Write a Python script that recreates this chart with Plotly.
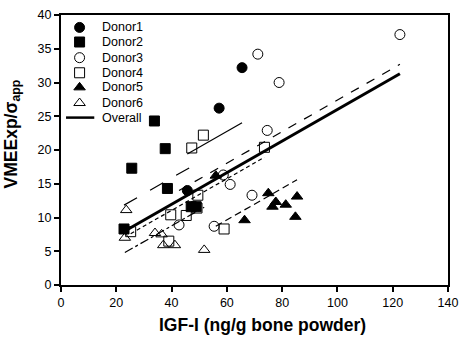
import plotly.graph_objects as go

# ---------------- data ----------------
donor1_x = [65.5, 57.2, 45.7]
donor1_y = [32.2, 26.2, 14.0]

donor2_x = [22.8, 25.6, 33.8, 37.7, 38.5, 47.1, 48.9]
donor2_y = [8.3, 17.3, 24.3, 20.2, 14.3, 11.6, 11.6]

donor3_x = [122.6, 71.2, 78.9, 74.6, 58.7, 61.2, 69.1, 55.4, 42.7]
donor3_y = [37.1, 34.2, 30.0, 22.9, 16.3, 14.9, 13.3, 8.7, 8.9]

donor4_x = [51.5, 47.3, 73.6, 49.2, 49.5, 39.7, 45.3, 59.0, 25.2, 39.0]
donor4_y = [22.2, 20.3, 20.4, 11.4, 13.3, 10.4, 10.3, 8.3, 7.9, 6.5]

donor5_x = [56.0, 75.0, 77.7, 76.5, 81.3, 85.4, 84.8, 66.4]
donor5_y = [16.2, 13.6, 12.3, 11.6, 11.9, 13.1, 10.1, 9.6]

donor6_x = [23.6, 23.1, 34.0, 36.4, 37.0, 41.2, 51.8]
donor6_y = [11.1, 7.0, 7.7, 7.5, 5.9, 5.9, 5.2]

names = ["Donor1", "Donor2", "Donor3", "Donor4", "Donor5", "Donor6"]
symbols = ["circle", "square", "circle-open", "square-open", "triangle-up", "triangle-up-open"]

# fitted lines (common slope, donor-specific intercepts)
common_slope = 0.234
fit_intercepts = [8.7, 6.5, 4.0, 1.7, -4.4, -0.6]
fit_xmin = [45.7, 22.8, 42.7, 25.2, 56.0, 23.1]
fit_xmax = [65.5, 48.9, 122.6, 73.6, 85.4, 51.8]
fit_dash = ["solid", "longdash", "dash", "4px,3px", "7px,4px", "dashdot"]

overall_intercept = 2.6
overall_slope = 0.234
overall_xrange = [22.8, 122.6]

x_ticks = [0, 20, 40, 60, 80, 100, 120, 140]
y_ticks = [0, 5, 10, 15, 20, 25, 30, 35, 40]

xs = [donor1_x, donor2_x, donor3_x, donor4_x, donor5_x, donor6_x]
ys = [donor1_y, donor2_y, donor3_y, donor4_y, donor5_y, donor6_y]

FONT = "Arial, Liberation Sans, Helvetica, sans-serif"

fig = go.Figure()

# donor fit lines
for i in range(6):
    lx = [fit_xmin[i], fit_xmax[i]]
    ly = [common_slope * v + fit_intercepts[i] for v in lx]
    fig.add_trace(go.Scatter(x=lx, y=ly, mode="lines",
                             line=dict(color="black", width=1.2, dash=fit_dash[i]),
                             showlegend=False, hoverinfo="skip"))

# overall line
ox = overall_xrange
oy = [overall_slope * v + overall_intercept for v in ox]
fig.add_trace(go.Scatter(x=ox, y=oy, mode="lines",
                         line=dict(color="black", width=3),
                         showlegend=False, hoverinfo="skip"))

# markers
for i in range(6):
    fig.add_trace(go.Scatter(x=xs[i], y=ys[i], mode="markers", name=names[i],
                             marker=dict(symbol=symbols[i], size=10, color="black",
                                         line=dict(color="black", width=1)),
                             showlegend=False))

# ---- manual legend (hidden overlay axes, 0..1 = plot area) ----
leg_rows_y = [0.954, 0.900, 0.842, 0.786, 0.732, 0.674, 0.620]
leg_sym_x = 0.048
leg_text_x = 0.100
for i in range(6):
    fig.add_trace(go.Scatter(x=[leg_sym_x], y=[leg_rows_y[i]], mode="markers",
                             xaxis="x2", yaxis="y2",
                             marker=dict(symbol=symbols[i], size=10, color="black",
                                         line=dict(color="black", width=1)),
                             showlegend=False, hoverinfo="skip"))
fig.add_trace(go.Scatter(x=[0.013, 0.086], y=[leg_rows_y[6]] * 2, mode="lines",
                         xaxis="x2", yaxis="y2",
                         line=dict(color="black", width=2.5),
                         showlegend=False, hoverinfo="skip"))

annotations = []
for i, label in enumerate(names + ["Overall"]):
    annotations.append(dict(x=leg_text_x, y=leg_rows_y[i], xref="paper", yref="paper",
                            text=label, showarrow=False, xanchor="left", yanchor="middle",
                            font=dict(family=FONT, size=12.5, color="black")))

annotations.append(dict(x=0.52, y=-0.148, xref="paper", yref="paper",
                        text="<b>IGF-I (ng/g bone powder)</b>", showarrow=False,
                        xanchor="center", yanchor="middle",
                        font=dict(family=FONT, size=17.5, color="black")))
annotations.append(dict(x=-0.125, y=0.56, xref="paper", yref="paper",
                        text="<b>VMEExp/σ<sub>app</sub></b>", showarrow=False,
                        textangle=-90, xanchor="center", yanchor="middle",
                        font=dict(family=FONT, size=17.5, color="black")))

axis_common = dict(showline=True, linecolor="black", linewidth=2, mirror=True,
                   ticks="outside", ticklen=5, tickwidth=2, tickcolor="black",
                   showgrid=False, zeroline=False,
                   tickfont=dict(family=FONT, size=12.5, color="black"))

fig.update_layout(
    width=466, height=338,
    margin=dict(l=61, r=12, t=8, b=53),
    paper_bgcolor="white", plot_bgcolor="white",
    showlegend=False,
    xaxis=dict(range=[0, 140], tickvals=x_ticks, **axis_common),
    yaxis=dict(range=[0, 40], tickvals=y_ticks, **axis_common),
    xaxis2=dict(range=[0, 1], overlaying="x", visible=False, anchor="y2"),
    yaxis2=dict(range=[0, 1], overlaying="y", visible=False, anchor="x2"),
    annotations=annotations,
)

fig.write_html("out.html",
               config={"displayModeBar": False},
               post_script="document.body.style.margin='0';document.body.style.padding='0';")
